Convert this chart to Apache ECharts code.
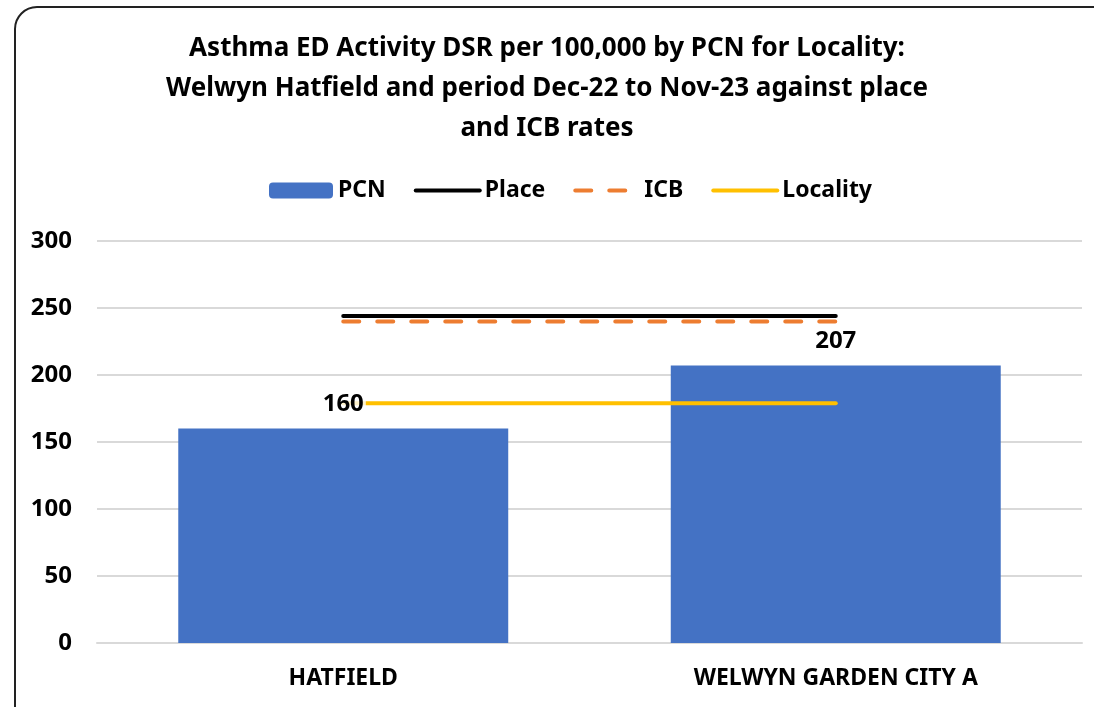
<!DOCTYPE html>
<html>
<head>
<meta charset="utf-8">
<script src="https://cdn.jsdelivr.net/npm/echarts@6/dist/echarts.min.js"></script>
<style>
  html, body { margin: 0; padding: 0; background: #fff; }
  #chart { width: 1094px; height: 707px; }
</style>
</head>
<body>
<div id="chart"></div>
<script>
var categories = ["HATFIELD", "WELWYN GARDEN CITY A"];
var pcnValues = [160, 207];
var placeValues = [244, 244];
var icbValues = [240, 240];
var localityValues = [179, 179];

var font = "'Noto Sans', sans-serif";
var chart = echarts.init(document.getElementById("chart"));

function lineLegend(name) {
    return { name: name, itemStyle: { opacity: 0 }, lineStyle: { width: 4 } };
}

var option = {
    animation: false,
    textStyle: { fontFamily: font },
    title: {
        text: "Asthma ED Activity DSR per 100,000 by PCN for Locality:\nWelwyn Hatfield and period Dec-22 to Nov-23 against place\nand ICB rates",
        left: "center",
        top: 24,
        textStyle: { fontSize: 26, fontWeight: "bold", color: "#000", lineHeight: 40, fontFamily: font }
    },
    legend: {
        top: 174,
        left: 264,
        itemWidth: 64,
        itemHeight: 16,
        itemGap: 28,
        textStyle: { fontSize: 23, fontWeight: "bold", color: "#000", fontFamily: font },
        data: ["PCN", lineLegend("Place"), lineLegend("ICB"), lineLegend("Locality")]
    },
    grid: { left: 97, right: 12, top: 241, bottom: 64 },
    xAxis: {
        type: "category",
        data: categories,
        axisLine: { show: true, lineStyle: { color: "#d9d9d9", width: 2 } },
        axisTick: { show: false },
        axisLabel: { fontSize: 23, fontWeight: "bold", color: "#000", margin: 24 }
    },
    yAxis: {
        type: "value",
        min: 0,
        max: 300,
        interval: 50,
        axisLine: { show: false },
        axisTick: { show: false },
        splitLine: { lineStyle: { color: "#d9d9d9", width: 2 } },
        axisLabel: { fontSize: 24, fontWeight: "bold", color: "#000", margin: 25 }
    },
    series: [
        {
            name: "PCN",
            type: "bar",
            data: pcnValues,
            barWidth: "67%",
            itemStyle: { color: "#4472C4" },
            z: 2
        },
        {
            name: "Place",
            type: "line",
            data: placeValues,
            symbol: "none",
            lineStyle: { color: "#000", width: 4, cap: "round" },
            itemStyle: { color: "#000" },
            z: 4
        },
        {
            name: "ICB",
            type: "line",
            data: icbValues,
            symbol: "none",
            lineStyle: { color: "#ED7D31", width: 4, type: [16, 18], cap: "round" },
            itemStyle: { color: "#ED7D31" },
            z: 3
        },
        {
            name: "Locality",
            type: "line",
            data: localityValues,
            symbol: "none",
            lineStyle: { color: "#FFC000", width: 4, cap: "round" },
            itemStyle: { color: "#FFC000" },
            z: 4
        },
        {
            // invisible copy of the PCN bars carrying the data labels above the lines
            name: "PCN labels",
            type: "bar",
            data: pcnValues,
            barWidth: "67%",
            barGap: "-100%",
            itemStyle: { color: "rgba(0,0,0,0)" },
            label: {
                show: true,
                position: "top",
                distance: 12,
                fontSize: 24,
                fontWeight: "bold",
                color: "#000",
                backgroundColor: "rgba(255,255,255,0.8)",
                padding: [0, 2]
            },
            silent: true,
            z: 6
        }
    ],
    graphic: [{
        type: "rect",
        shape: { x: 15, y: 7, width: 1100, height: 730, r: 22 },
        style: { fill: "none", stroke: "#222", lineWidth: 2 },
        silent: true
    }]
};
chart.setOption(option);
</script>
</body>
</html>
